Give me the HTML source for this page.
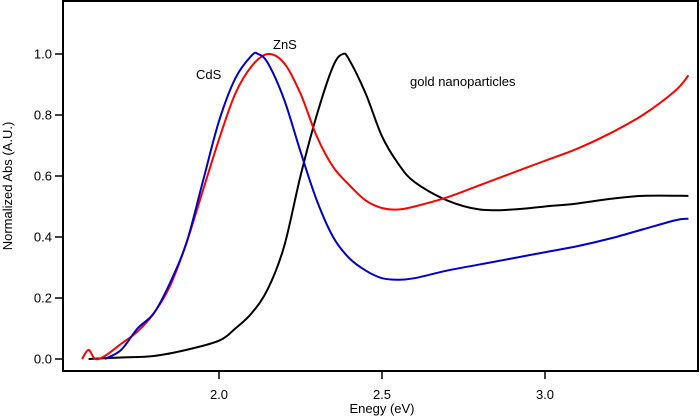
<!DOCTYPE html>
<html><head><meta charset="utf-8"><style>
body{margin:0;background:#fff}
svg{display:block;font-family:"Liberation Sans",sans-serif}
</style></head><body>
<svg id="chart" width="700" height="417" viewBox="0 0 700 417">
<g id="ax"></g><g id="series"></g>
<rect x="63" y="1" width="635" height="370" fill="none" stroke="#000" stroke-width="2"/>
<text transform="translate(12,186) rotate(-90)" text-anchor="middle" font-size="13">Normalized Abs (A.U.)</text>
<text x="382" y="413" text-anchor="middle" font-size="13">Enegy (eV)</text>
<text x="196" y="79" font-size="13">CdS</text>
<text x="273" y="49" font-size="13">ZnS</text>
<text x="410" y="86" font-size="13">gold nanoparticles</text>
</svg>
<script>
const xTicks=[2.0,2.5,3.0];
const yTicks=[0.0,0.2,0.4,0.6,0.8,1.0];
const goldX=[1.6,1.7,1.8,1.9,2.0,2.05,2.1,2.15,2.2,2.25,2.3,2.35,2.38,2.4,2.45,2.5,2.55,2.6,2.7,2.8,2.9,3.0,3.1,3.2,3.3,3.44];
const goldY=[0.0,0.005,0.01,0.03,0.06,0.1,0.15,0.23,0.37,0.6,0.8,0.96,1.0,0.98,0.87,0.73,0.64,0.58,0.52,0.49,0.49,0.5,0.51,0.525,0.535,0.535];
const znsX=[1.58,1.6,1.62,1.65,1.7,1.75,1.8,1.85,1.9,1.95,2.0,2.05,2.1,2.15,2.2,2.25,2.3,2.35,2.4,2.45,2.5,2.55,2.6,2.7,2.8,2.9,3.0,3.1,3.2,3.3,3.4,3.44];
const znsY=[0.0,0.03,0.0,0.01,0.05,0.09,0.15,0.24,0.38,0.55,0.72,0.87,0.96,1.0,0.97,0.87,0.73,0.63,0.57,0.52,0.495,0.49,0.5,0.53,0.57,0.61,0.65,0.69,0.74,0.8,0.88,0.93];
const cdsX=[1.65,1.7,1.75,1.8,1.85,1.9,1.95,2.0,2.05,2.1,2.12,2.15,2.2,2.25,2.3,2.35,2.4,2.45,2.5,2.55,2.6,2.7,2.8,2.9,3.0,3.1,3.2,3.3,3.4,3.44];
const cdsY=[0.0,0.03,0.1,0.15,0.25,0.38,0.58,0.78,0.92,0.995,1.0,0.97,0.85,0.68,0.52,0.4,0.33,0.29,0.265,0.26,0.265,0.29,0.31,0.33,0.35,0.37,0.395,0.425,0.455,0.46];
const NS="http://www.w3.org/2000/svg";
const sx=v=>219+(v-2.0)*326;
const sy=v=>359-v*305;
const ax=document.getElementById('ax'),sr=document.getElementById('series');
function mk(t,a,p){const e=document.createElementNS(NS,t);for(const k in a)e.setAttribute(k,a[k]);p.appendChild(e);return e;}
xTicks.forEach(t=>{
 const l=mk('line',{x1:sx(t),x2:sx(t),y1:371,y2:379,stroke:'#000','stroke-width':1.5},ax);
 
 
 const tx=mk('text',{x:sx(t),y:399,'text-anchor':'middle','font-size':13},ax);tx.textContent=t.toFixed(1);
 
 
});
yTicks.forEach(t=>{
 const l=mk('line',{x1:55,x2:63,y1:sy(t),y2:sy(t),stroke:'#000','stroke-width':1.5},ax);
 
 
 const tx=mk('text',{x:52,y:sy(t)+4.5,'text-anchor':'end','font-size':13},ax);tx.textContent=t.toFixed(1);
 
 
});
function line(xs,ys,c,name){
 const P=xs.map((x,i)=>[sx(x),sy(ys[i])]);
 let d='M'+P[0][0]+','+P[0][1];
 for(let i=0;i<P.length-1;i++){
  const p0=P[Math.max(0,i-1)],p1=P[i],p2=P[i+1],p3=P[Math.min(P.length-1,i+2)];
  const c1=[p1[0]+(p2[0]-p0[0])/6,p1[1]+(p2[1]-p0[1])/6];
  const c2=[p2[0]-(p3[0]-p1[0])/6,p2[1]-(p3[1]-p1[1])/6];
  d+=' C'+c1.join(',')+' '+c2.join(',')+' '+p2.join(',');
 }
 const p=mk('path',{d:d,fill:'none',stroke:c,'stroke-width':2,'stroke-linejoin':'round'},sr);
 
 
}
line(goldX,goldY,'#000','gold-series');
line(znsX,znsY,'#f00','zns-series');
line(cdsX,cdsY,'#00c','cds-series');
</script>
</body></html>
